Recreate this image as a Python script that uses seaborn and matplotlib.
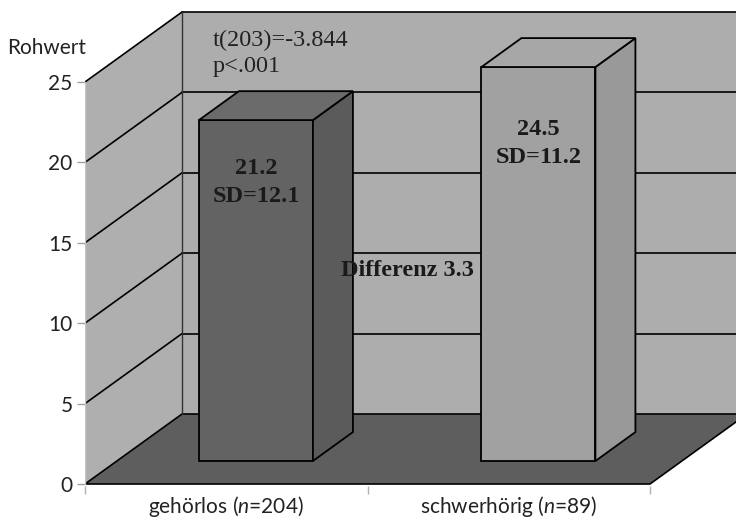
import matplotlib
matplotlib.use("Agg")
import matplotlib.pyplot as plt
import matplotlib.transforms as mtransforms
import pandas as pd
import seaborn as sns

# ---- data -------------------------------------------------------------
groups = ["gehörlos", "schwerhörig"]
n_sizes = [204, 89]
means = [21.2, 24.5]
sds = [12.1, 11.2]
t_df = 203
t_value = -3.844
p_label = "p<.001"
y_ticks = [0, 5, 10, 15, 20, 25]
y_title = "Rohwert"

# ---- colours ----------------------------------------------------------
front_colors = ["#636363", "#a1a1a1"]
side_colors = ["#5b5b5b", "#999999"]
top_colors = ["#6b6b6b", "#a7a7a7"]
wall_color = "#adadad"
side_wall_color = "#afafaf"
floor_color = "#5e5e5e"

sns.set_style("white")
plt.rcParams["font.family"] = ["Lato", "DejaVu Sans"]
plt.rcParams["mathtext.fontset"] = "custom"
plt.rcParams["mathtext.rm"] = "Lato"
plt.rcParams["mathtext.it"] = "Lato:italic"
SERIF = ["Liberation Serif", "DejaVu Serif"]

W, H = 736, 519
fig = plt.figure(figsize=(W / 100, H / 100), dpi=100)
ax = fig.add_axes([85 / W, (H - 486) / H, (W - 85) / W, 476 / H])

# oblique projection of the depth axis (data units)
DX, DY = 0.3434, 4.353          # full depth of the plot box
SX, SY = 0.105, 1.43            # depth at which the bars' front faces sit
BX, BY = 0.1416, 1.80           # depth of each bar
x0, x1 = -0.5, 1.5
top = max(y_ticks)

# ---- bars (front faces) ----------------------------------------------
df = pd.DataFrame({"Gruppe": groups, "Rohwert": means})
sns.barplot(data=df, x="Gruppe", y="Rohwert", hue="Gruppe",
            palette=front_colors, width=0.4035, saturation=1,
            edgecolor="black", linewidth=1.3, errorbar=None,
            legend=False, ax=ax, zorder=3)
bars = list(ax.patches)
shift = mtransforms.Affine2D().translate(SX, SY) + ax.transData
for b in bars:
    b.set_transform(shift)

# ---- walls and floor --------------------------------------------------
ax.fill([x0 + DX, x1 + DX + 1, x1 + DX + 1, x0 + DX],
        [DY, DY, top + DY, top + DY], color=wall_color, lw=0, zorder=0.5)
ax.fill([x0, x0 + DX, x0 + DX, x0], [0, DY, top + DY, top],
        color=side_wall_color, lw=0, zorder=0.6)
ax.fill([x0, x1, x1 + DX, x0 + DX], [0, 0, DY, DY],
        facecolor=floor_color, edgecolor="black", lw=1.2, zorder=0.7)

for yv in y_ticks[1:]:
    ax.plot([x0 + DX, x1 + DX + 1], [yv + DY, yv + DY],
            color="black", lw=1.2, zorder=0.8)
    ax.plot([x0, x0 + DX], [yv, yv + DY], color="black", lw=1.2, zorder=0.8)
ax.plot([x0 + DX, x0 + DX], [DY, top + DY], color="#333333", lw=1.0, zorder=0.8)
ax.plot([x0, x0], [0, top], color="#c4c4c4", lw=1.0, zorder=0.8)

# ---- bar sides and tops ----------------------------------------------
for b, sc, tc in zip(bars, side_colors, top_colors):
    bx0 = b.get_x() + SX
    bx1 = bx0 + b.get_width()
    by0 = SY
    by1 = SY + b.get_height()
    ax.fill([bx1, bx1 + BX, bx1 + BX, bx1], [by0, by0 + BY, by1 + BY, by1],
            facecolor=sc, edgecolor="black", lw=1.3, zorder=3)
    ax.fill([bx0, bx0 + BX, bx1 + BX, bx1], [by1, by1 + BY, by1 + BY, by1],
            facecolor=tc, edgecolor="black", lw=1.3, zorder=3)

# ---- value labels -----------------------------------------------------
label_drop = [(3.0, 4.75), (3.9, 5.6)]
for b, m, s, (d1, d2) in zip(bars, means, sds, label_drop):
    cx = b.get_x() + SX + b.get_width() / 2
    ytop = SY + b.get_height()
    ax.text(cx, ytop - d1, f"{m:.1f}", ha="center", va="center",
            family=SERIF, weight="bold", fontsize=17.5, color="#1a1a1a", zorder=5)
    ax.text(cx, ytop - d2, f"SD={s:.1f}", ha="center", va="center",
            family=SERIF, weight="bold", fontsize=17.5, color="#1a1a1a", zorder=5)

ax.text(0.64, 13.25, f"Differenz {means[1] - means[0]:.1f}", ha="center",
        va="center", family=SERIF, weight="bold", fontsize=17.5,
        color="#1a1a1a", zorder=5)
ax.text(-0.047, 27.61, f"t({t_df})={t_value:.3f}", ha="left", va="center",
        family=SERIF, fontsize=17.5, color="#222222", zorder=5)
ax.text(-0.047, 25.95, p_label, ha="left", va="center",
        family=SERIF, fontsize=17.5, color="#222222", zorder=5)

# ---- axes -------------------------------------------------------------
ax.set_xlim(x0, x0 + 651 / 282.5)
ax.set_ylim(-2 / 16.08, 474 / 16.08)
for sp in ax.spines.values():
    sp.set_visible(False)
ax.set_xlabel("")
ax.set_ylabel("")
ax.set_xticks([0, 1], labels=[f"{g} ($n$={n})" for g, n in zip(groups, n_sizes)])
ax.set_xticks([-0.5, 0.5, 1.5], minor=True)
ax.tick_params(axis="x", which="major", length=0, pad=6, labelsize=15,
               labelcolor="#222222")
ax.tick_params(axis="x", which="minor", length=6, width=1, color="#b0b0b0",
               bottom=True)
ax.set_yticks(y_ticks)
ax.tick_params(axis="y", length=6, width=1, color="#a0a0a0", pad=3,
               labelsize=15, labelcolor="#222222", left=True)
ax.grid(False)

fig.text(47 / W, 1 - 48 / H, y_title, ha="center", va="center",
         fontsize=15, color="#222222")

fig.savefig("out.png", dpi=100)
